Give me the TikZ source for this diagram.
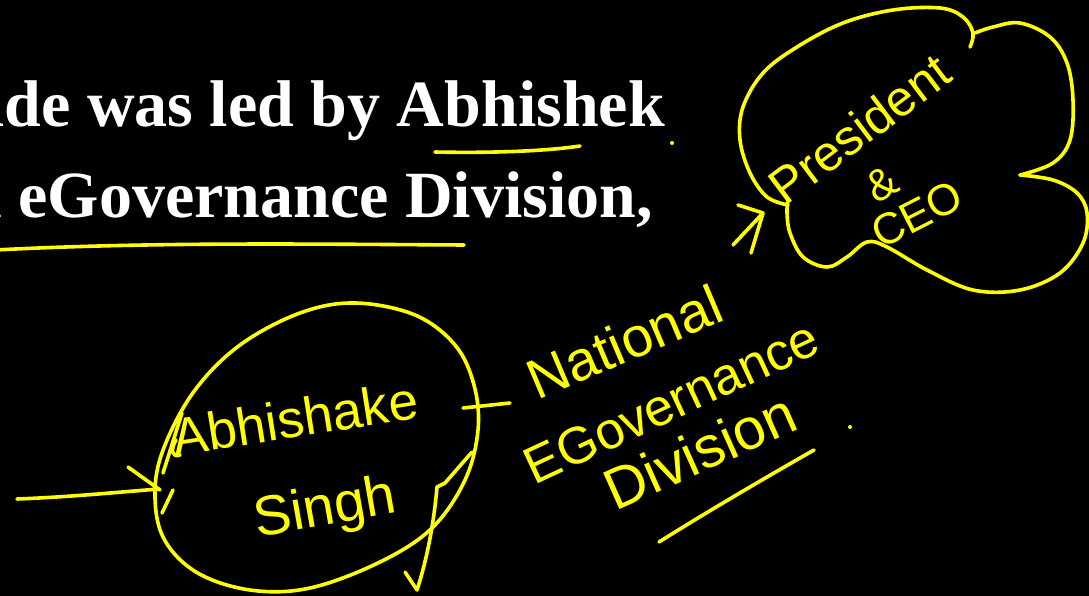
\documentclass[tikz,border=0pt]{standalone}
\usepackage{fontspec}
\setmainfont{Liberation Serif}
\newfontfamily\hand{Liberation Sans}
\definecolor{hl}{RGB}{255,255,0}
\begin{document}
\begin{tikzpicture}[x=1pt,y=-1pt,
  ink/.style={draw=hl,line width=3.6pt,line cap=round,line join=round},
  hw/.style={text=hl,inner sep=0pt,anchor=base},
  slide/.style={text=white,font=\bfseries\fontsize{66}{66}\selectfont,inner sep=0pt}]
\fill[black] (0,0) rectangle (1089,596);
\useasboundingbox (0,0) rectangle (1089,596);
\clip (0,0) rectangle (1089,596);
% slide text
\node[slide,anchor=base east] (l1) at (665,127) {ade was led by Abhishek};
\node[slide,anchor=base east] (l2) at (653,217) {n eGovernance Division,};
% underlines and dots
\draw[ink] (435,152) .. controls (480,153) and (540,152) .. (580,146);
\draw[ink] (-5,250) .. controls (150,242) and (300,244) .. (464,245);
\fill[hl] (672,143) circle (2);
\fill[hl] (850,427) circle (2);
% circle around name
\draw[ink] plot[smooth cycle,tension=0.6] coordinates {(355,303) (300,313) (240,345) (195,390) (165,445) (155,490) (163,537) (196,572) (250,590) (310,588) (380,562) (432,528) (465,480) (478,430) (474,385) (455,345) (415,315)};
\draw[ink] (182,413) -- (163,473);
\draw[ink] (176,440) .. controls (170,450) and (172,458) .. (180,455);
\coordinate (cl) at (159,489);
\coordinate (cr) at (463,408);
\node[hw,font=\hand\fontsize{53}{53}\selectfont,rotate=9] (abh) at (298,437) {Abhishake};
\node[hw,font=\hand\fontsize{56}{56}\selectfont,rotate=10] (singh) at (328,525) {Singh};
% left arrow
\coordinate (la) at (17,499);
\draw[ink] (la) .. controls (70,497) and (120,492) .. (cl);
\draw[ink] (128,467) -- (160,490);
\draw[ink] (173,490) -- (162,513);
% hook
\draw[ink] (472,452) -- (445,483) -- (437,487) .. controls (435,510) and (430,550) .. (417,590) -- (405,572);
% dash connector
\coordinate (nd) at (510,403);
\draw[ink] (cr) -- (nd);
% National eGovernance Division
\node[hw,font=\hand\fontsize{56}{56}\selectfont,rotate=23] (nat) at (632,360) {National};
\node[hw,font=\hand\fontsize{52}{52}\selectfont,rotate=25] (egov) at (679,418) {EGovernance};
\node[hw,font=\hand\fontsize{58}{58}\selectfont,rotate=24] (div) at (708,470) {Division};
\draw[ink] (659,542) .. controls (710,510) and (770,475) .. (814,450);
% arrow to cloud
\draw[ink] (733,245) -- (763,213);
\draw[ink] (738,205) -- (763,213) -- (751,253);
% cloud
\draw[ink] plot[smooth,tension=0.6] coordinates {(788,205) (767,197) (750,173) (740,140) (743,107) (763,73) (797,47) (843,23) (893,10) (940,8) (963,17) (973,33) (970,47)};
\draw[ink] plot[smooth,tension=0.6] coordinates {(975,33) (993,27) (1020,23) (1050,37) (1067,63) (1073,100) (1070,140) (1053,163) (1020,175)};
\draw[ink] plot[smooth,tension=0.6] coordinates {(1020,175) (1053,180) (1077,193) (1087,213) (1083,243) (1060,273) (1020,290) (973,290) (927,270) (887,247) (867,242) (847,257) (827,267) (803,257) (790,233) (787,213) (788,200)};
\node[hw,font=\hand\fontsize{50}{50}\selectfont,rotate=37] (pres) at (870,143) {President};
\node[hw,font=\hand\fontsize{44}{44}\selectfont,rotate=30] (amp) at (889,197) {\&};
\node[hw,font=\hand\fontsize{44}{44}\selectfont,rotate=27] (ceo) at (924,228) {CEO};
\end{tikzpicture}
\end{document}
